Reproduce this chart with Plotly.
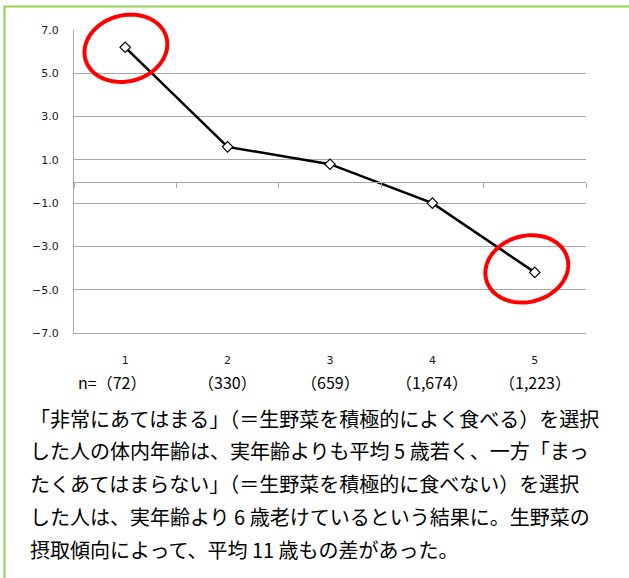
import numpy as np
import plotly.graph_objects as go

# Response categories (1 = 非常にあてはまる ... 5 = まったくあてはまらない)
categories = [1, 2, 3, 4, 5]
# Body age minus real age (years), average per category
age_gap = [6.2, 1.6, 0.8, -1.0, -4.2]
# Respondents per category
sample_sizes = ["72", "330", "659", "1,674", "1,223"]
y_ticks = [-7, -5, -3, -1, 1, 3, 5, 7]

caption_lines = [
    "「非常にあてはまる」（＝生野菜を積極的によく食べる）を選択",
    "した人の体内年齢は、実年齢よりも平均 5 歳若く、一方「まっ",
    "たくあてはまらない」（＝生野菜を積極的に食べない）を選択",
    "した人は、実年齢より 6 歳老けているという結果に。生野菜の",
    "摂取傾向によって、平均 11 歳もの差があった。",
]

W, H = 629, 578
L, R, T, B = 74, 43, 30, 245
PW, PH = W - L - R, H - T - B
Y_RANGE = [-7, 7]
X_RANGE = [0.5, 5.5]

FONT = "Noto Sans CJK JP"
NUM_FONT = "DejaVu Sans"
GRID = "#a8a8a8"


def px(x):
    return (x - L) / PW


def py(y):
    return (H - B - y) / PH


def data_to_paper(xv, yv):
    fx = (xv - X_RANGE[0]) / (X_RANGE[1] - X_RANGE[0])
    fy = (yv - Y_RANGE[0]) / (Y_RANGE[1] - Y_RANGE[0])
    return fx, fy


def ellipse_path(a, b, deg, dx, dy, n=72):
    th = np.deg2rad(deg)
    t = np.linspace(0, 2 * np.pi, n, endpoint=False)
    xs = a * np.cos(th) * np.cos(t) - b * np.sin(th) * np.sin(t) + dx
    ys = a * np.sin(th) * np.cos(t) + b * np.cos(th) * np.sin(t) + dy
    pts = [f"{x:.2f},{y:.2f}" for x, y in zip(xs, ys)]
    return "M " + " L ".join(pts) + " Z"


fig = go.Figure()
fig.add_trace(go.Scatter(
    x=categories, y=age_gap, mode="lines+markers",
    line=dict(color="black", width=2.5),
    marker=dict(symbol="diamond", size=8, color="white",
                line=dict(color="black", width=1.2)),
    showlegend=False, hoverinfo="skip",
))

# category axis crossing at y = 0, with boundary tick marks
fig.add_trace(go.Scatter(x=categories, y=age_gap, xaxis="x2", mode="none",
                         showlegend=False, hoverinfo="skip"))

shapes = []
# highlight rings around the two extreme categories (anchored on the points,
# in paper space so they are not clipped by the plot area)
for idx, (dx, dy) in ((0, (0.7, -1.0)), (4, (-8.0, 3.5))):
    ax_, ay_ = data_to_paper(categories[idx], age_gap[idx])
    shapes.append(dict(
        type="path", xref="paper", yref="paper",
        xsizemode="pixel", ysizemode="pixel", xanchor=ax_, yanchor=ay_,
        path=ellipse_path(42, 33, 15, dx, dy),
        line=dict(color="#ff0000", width=4), fillcolor="rgba(0,0,0,0)",
    ))
# green frame
shapes.append(dict(type="rect", xref="paper", yref="paper",
                   x0=px(4.5), x1=px(700), y0=py(700), y1=py(6.5),
                   line=dict(color="#92d050", width=2)))

annotations = []
for i, (c, n) in enumerate(zip(categories, sample_sizes)):
    text = f"（{n}）"
    shift = 0
    if i == 0:
        text = "n=" + text
        shift = -13
    annotations.append(dict(
        x=c, xref="x", y=py(381.5), yref="paper", text=text, showarrow=False,
        xanchor="center", yanchor="middle", xshift=shift,
        font=dict(family=FONT, size=16, color="black"),
    ))
for i, line in enumerate(caption_lines):
    annotations.append(dict(
        x=px(28), xref="paper", y=py(418 + 32.75 * i), yref="paper",
        text=line, showarrow=False, xanchor="left", yanchor="middle",
        font=dict(family=FONT, size=20, color="black"),
    ))

fig.update_layout(
    width=W, height=H,
    margin=dict(l=L, r=R, t=T, b=B, pad=0),
    paper_bgcolor="white", plot_bgcolor="white",
    font=dict(family=FONT, color="#222222"),
    xaxis=dict(range=X_RANGE, tickvals=categories,
               ticktext=[str(c) for c in categories],
               showgrid=False, zeroline=False, showline=True,
               linecolor=GRID, linewidth=1, ticks="",
               ticklabelstandoff=17,
               tickfont=dict(family=NUM_FONT, size=11, color="#1a1a1a")),
    xaxis2=dict(range=X_RANGE, overlaying="x", anchor="free",
                position=(0 - Y_RANGE[0]) / (Y_RANGE[1] - Y_RANGE[0]),
                tickvals=[c - 0.5 for c in categories] + [categories[-1] + 0.5],
                ticks="outside", ticklen=5, tickcolor=GRID, tickwidth=1,
                showticklabels=False, showgrid=False, zeroline=False,
                showline=True, linecolor=GRID, linewidth=1),
    yaxis=dict(range=Y_RANGE, tickvals=y_ticks, tickformat=".1f",
               showgrid=True, gridcolor=GRID, gridwidth=1,
               zeroline=False, showline=True, linecolor=GRID, linewidth=1,
               ticks="", ticklabelstandoff=12,
               tickfont=dict(family=NUM_FONT, size=11, color="#1a1a1a")),
    shapes=shapes,
    annotations=annotations,
)

fig.write_html("out.html")
